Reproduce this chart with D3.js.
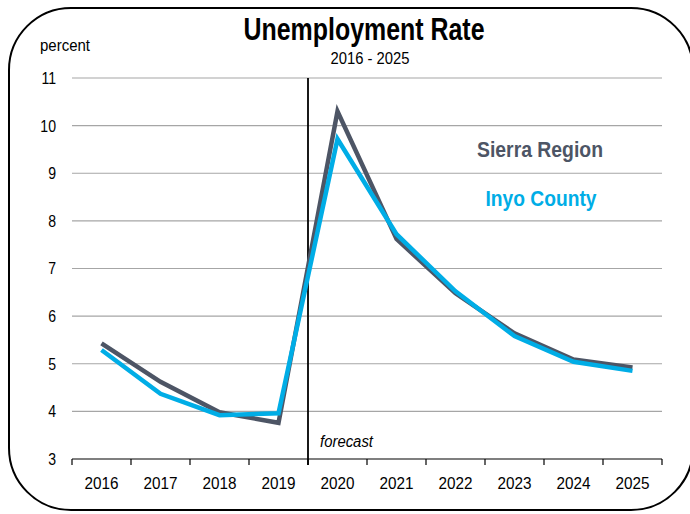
<!DOCTYPE html>
<html>
<head>
<meta charset="utf-8">
<script src="https://cdn.jsdelivr.net/npm/d3@7"></script>
<style>
  body { margin: 0; background: #fff; }
  svg text { font-family: 'Liberation Sans Narrow', 'Arial Narrow', 'Liberation Sans', sans-serif; }
</style>
</head>
<body>
<svg class="canvas" width="690" height="514"></svg>
<script>
const years = ['2016', '2017', '2018', '2019', '2020', '2021', '2022', '2023', '2024', '2025'];
const sierraRegion = [5.43, 4.62, 3.98, 3.76, 10.3, 7.62, 6.48, 5.64, 5.09, 4.92];
const inyoCounty = [5.29, 4.37, 3.92, 3.96, 9.72, 7.72, 6.52, 5.58, 5.04, 4.85];
const yTicks = [3, 4, 5, 6, 7, 8, 9, 10, 11];

const svg = d3.select('.canvas');
const margin = { left: 72, right: 28, top: 78, bottom: 55 };
const W = 690, H = 514;

// rounded frame
svg.append('rect')
  .attr('x', 9).attr('y', 8).attr('width', 690 - 6).attr('height', 502)
  .attr('rx', 62).attr('ry', 62)
  .attr('fill', 'none').attr('stroke', '#000').attr('stroke-width', 2);

const x = d3.scaleBand().domain(years).range([margin.left, W - margin.right]);
const y = d3.scaleLinear().domain([3, 11]).range([H - margin.bottom, margin.top]);

// grid
svg.append('g')
  .selectAll('line')
  .data(yTicks.slice(1))
  .enter()
  .append('line')
  .attr('x1', margin.left).attr('x2', W - margin.right)
  .attr('y1', d => y(d)).attr('y2', d => y(d))
  .attr('stroke', '#a6a6a6').attr('stroke-width', 1.2);

// y labels
svg.append('g')
  .selectAll('text')
  .data(yTicks)
  .enter()
  .append('text')
  .attr('x', 56).attr('y', d => y(d) + 6)
  .attr('text-anchor', 'end')
  .attr('font-size', 16)
  .attr('transform', d => `translate(56, 0) scale(0.88, 1) translate(-56, 0)`)
  .text(d => d);

// x axis
const xAxis = svg.append('g')
  .attr('transform', `translate(0, ${y(3)})`);
xAxis.append('line')
  .attr('x1', margin.left).attr('x2', W - margin.right)
  .attr('stroke', '#000').attr('stroke-width', 1.2);
xAxis.selectAll('.tk')
  .data(years.concat(['end']))
  .enter()
  .append('line')
  .attr('class', 'tk')
  .attr('x1', (d, i) => margin.left + i * x.bandwidth())
  .attr('x2', (d, i) => margin.left + i * x.bandwidth())
  .attr('y1', 0).attr('y2', 6)
  .attr('stroke', '#000').attr('stroke-width', 1.2);
xAxis.selectAll('text')
  .data(years)
  .enter()
  .append('text')
  .attr('x', d => x(d) + x.bandwidth() / 2)
  .attr('y', 30)
  .attr('text-anchor', 'middle')
  .attr('font-size', 16)
  .attr('textLength', 34).attr('lengthAdjust', 'spacingAndGlyphs')
  .text(d => d);

// forecast divider
const fx = x('2020');
svg.append('line')
  .attr('x1', fx).attr('x2', fx)
  .attr('y1', margin.top).attr('y2', y(3) + 6)
  .attr('stroke', '#000').attr('stroke-width', 1.8);
svg.append('text')
  .attr('x', fx + 12).attr('y', y(3) - 12)
  .attr('font-size', 16).attr('font-style', 'italic')
  .attr('textLength', 53).attr('lengthAdjust', 'spacingAndGlyphs')
  .text('forecast');

// lines
const line = d3.line()
  .x((d, i) => x(years[i]) + x.bandwidth() / 2)
  .y(d => y(d));
svg.append('path')
  .attr('d', line(sierraRegion))
  .attr('fill', 'none').attr('stroke', '#4d5565').attr('stroke-width', 4.5)
  .attr('stroke-linejoin', 'miter');
svg.append('path')
  .attr('d', line(inyoCounty))
  .attr('fill', 'none').attr('stroke', '#00ade6').attr('stroke-width', 4.5)
  .attr('stroke-linejoin', 'miter');

// legend labels
svg.append('text')
  .attr('x', 540).attr('y', 157)
  .attr('text-anchor', 'middle')
  .attr('font-size', 22).attr('font-weight', 'bold')
  .attr('textLength', 126).attr('lengthAdjust', 'spacingAndGlyphs')
  .attr('fill', '#4d5565')
  .text('Sierra Region');
svg.append('text')
  .attr('x', 541).attr('y', 206)
  .attr('text-anchor', 'middle')
  .attr('font-size', 22).attr('font-weight', 'bold')
  .attr('textLength', 111).attr('lengthAdjust', 'spacingAndGlyphs')
  .attr('fill', '#00ade6')
  .text('Inyo County');

// titles
svg.append('text')
  .attr('x', 364).attr('y', 40)
  .attr('text-anchor', 'middle')
  .attr('font-size', 31).attr('font-weight', 'bold')
  .attr('textLength', 241).attr('lengthAdjust', 'spacingAndGlyphs')
  .text('Unemployment Rate');
svg.append('text')
  .attr('x', 370).attr('y', 64)
  .attr('text-anchor', 'middle')
  .attr('font-size', 16)
  .attr('textLength', 79).attr('lengthAdjust', 'spacingAndGlyphs')
  .text('2016 - 2025');
svg.append('text')
  .attr('x', 40).attr('y', 51)
  .attr('font-size', 16)
  .attr('textLength', 50).attr('lengthAdjust', 'spacingAndGlyphs')
  .text('percent');
</script>
</body>
</html>
